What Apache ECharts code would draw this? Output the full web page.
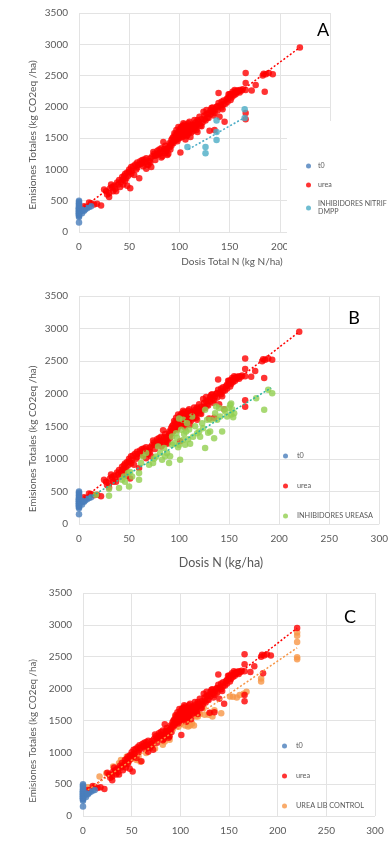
<!DOCTYPE html>
<html>
<head>
<meta charset="utf-8">
<script src="https://cdn.jsdelivr.net/npm/echarts@6/dist/echarts.min.js"></script>
<style>
html,body{margin:0;padding:0;background:#fff;}
#chart{width:391px;height:844px;}
</style>
</head>
<body>
<div id="chart"></div>
<script>
// ---------------- DATA ----------------
const yTicks = [0, 500, 1000, 1500, 2000, 2500, 3000, 3500];
const xMaxA = 250;   // panel A axis (the right part is hidden behind its legend)
const xMaxBC = 300;

const seriesNames = ['t0', 'urea', 'INHIBIDORES NITRIF\nDMPP', 'INHIBIDORES UREASA', 'UREA LIB CONTROL'];

// t0 (control, no N)
const t0Points = [
  [0,150],[0,240],[0,260],[0,270],[0,280],[0,290],[0,300],[0,310],[0,320],[0,330],
  [0,340],[0,350],[0,360],[0,370],[0,380],[0,390],[0,400],[0,420],[0,440],[0,460],
  [0,480],[0,500],[2,330],[3,300],[4,350],[5,340],[6,360],[8,380],[10,400],[12,410]
];

// urea (same in A, B, C)
const ureaPoints = [
  [5,410],[7,400],[10,470],[12,460],[15,440],[18,450],[22,425],[25,680],[27,650],[28,600],
  [30,560],[30,620],[31,700],[32,760],[33,720],[34,650],[35,740],[36,690],[37,650],[38,790],
  [39,760],[40,830],[41,720],[42,800],[43,880],[44,760],[44,840],[45,900],[46,930],[46,820],[47,860],
  [48,950],[48,740],[49,900],[50,1000],[50,960],[51,700],[52,1040],[52,930],[53,980],[54,1050],[55,910],
  [56,1080],[57,1000],[58,1110],[58,1030],[59,1070],[60,860],[61,1130],[62,1090],[63,1100],[63,1150],[64,1050],[65,1160],
  [66,1120],[67,1010],[67,1180],[68,1080],[69,1070],[70,1130],[71,1180],[71,1110],[72,1040],[73,1210],[74,1280],[75,1250],
  [76,1150],[76,1220],[77,1230],[78,1300],[79,1240],[80,1320],[80,1270],[81,1260],[82,1190],[82,1340],[83,1210],[84,1440],[85,1290],
  [85,1330],[86,1380],[86,1260],[87,1300],[88,1230],[88,1340],[89,1250],[90,1420],[90,1350],[91,1400],[91,1320],[92,1470],[92,1380],
  [93,1500],[93,1430],[94,1520],[94,1420],[95,1580],[95,1460],[96,1480],[96,1560],[97,1630],[97,1540],[97,1470],[98,1560],[98,1450],
  [99,1600],[99,1500],[99,1680],[100,1610],[100,1550],[100,1500],[101,1270],[101,1660],[101,1590],[102,1680],[102,1580],[102,1530],[103,1520],[103,1620],[103,1700],
  [104,1740],[104,1600],[104,1650],[105,1660],[105,1550],[105,1720],[106,1690],[106,1480],[106,1580],[107,1670],[107,1600],[107,1530],[108,1700],[108,1550],[108,1640],
  [109,1740],[109,1640],[109,1580],[110,1600],[110,1700],[110,1760],[111,1520],[111,1670],[112,1650],[112,1590],[113,1720],[113,1650],[114,1710],[114,1620],[115,1790],[115,1700],
  [116,1660],[116,1750],[117,1700],[117,1630],[118,1600],[118,1790],[119,1760],[120,1840],[120,1730],[121,1700],[122,1800],[122,1690],[123,1750],[124,1920],[125,1860],[125,1800],
  [126,1780],[127,1950],[127,1880],[128,1830],[129,1900],[129,1820],[130,1620],[131,1880],[131,1950],[132,1980],[133,1920],[133,1990],[134,1860],[135,1630],[135,1900],
  [136,1960],[137,2000],[138,1940],[138,2010],[139,2220],[139,2060],[140,1840],[141,2020],[142,2080],[142,1990],[143,1960],[144,2100],[144,2040],
  [145,1760],[146,2050],[147,2120],[148,2080],[148,2140],[149,2200],[150,2160],[150,2200],[151,2110],[152,2210],[152,2150],[153,2240],[154,2180],
  [155,2270],[156,2200],[156,2250],[157,2230],[158,2260],[159,2250],[160,2270],[160,2230],[162,2260],[163,2280],[166,2540],[166,2380],
  [166,2270],[166,1900],[166,1800],[172,2260],[176,2350],[183,2500],[184,2530],[185,2240],[186,2520],[189,2540],
  [193,2520],[220,2950]
];

// A: INHIBIDORES NITRIF DMPP
const nitrifPoints = [
  [108,1360],[126,1360],[126,1260],[137,1780],[137,1600],[137,1470],[165,1960],[165,1820]
];

// B: INHIBIDORES UREASA
const ureasaPoints = [
  [17,450],[30,434],[30,537],[40,552],[43,680],[45,731],[46,650],[49,782],[50,577],[51,800],
  [53,730],[60,680],[60,782],[62,935],[64,1037],[67,1088],[70,910],[74,935],[75,1000],[77,1037],
  [79,1190],[81,1090],[83,986],[85,1165],[86,1040],[88,1090],[90,935],[91,1040],[93,1216],[93,1344],
  [95,1240],[97,1395],[98,1320],[99,1180],[100,1216],[100,1620],[101,986],[102,1446],[104,1599],[104,1290],
  [105,1380],[106,1216],[107,1420],[108,1548],[109,1300],[110,1450],[111,1230],[113,1650],[114,1340],[116,1500],
  [118,1395],[120,1420],[121,1340],[123,1548],[124,1470],[126,1165],[126,1753],[128,1600],[129,1400],[131,1420],
  [132,1600],[135,1318],[136,1702],[137,1804],[138,1600],[140,1780],[141,1650],[143,1420],[145,1760],[146,1727],
  [148,1650],[150,1780],[151,1830],[152,1680],[152,1850],[153,1760],[154,1640],[155,1700],[177,1932],[185,1753],
  [189,2059],[193,2008]
];

// C: UREA LIB CONTROL
const libControlPoints = [
  [5,450],[17,618],[24,670],[31,775],[32,670],[34,720],[37,828],[39,880],[41,800],[43,850],
  [45,932],[46,830],[48,880],[50,900],[53,950],[55,880],[57,932],[59,850],[62,1090],[65,990],
  [69,1116],[72,1142],[74,1060],[76,1190],[79,1220],[82,1120],[84,1170],[86,1352],[88,1280],[89,1195],
  [93,1457],[95,1560],[97,1500],[98,1400],[99,1614],[101,1460],[102,1690],[103,1560],[105,1420],[106,1650],
  [107,1500],[108,1404],[110,1420],[112,1450],[114,1420],[116,1560],[118,1560],[120,1600],[122,1760],[124,1700],
  [125,1588],[127,1876],[129,1590],[131,1620],[133,1560],[135,1660],[137,1928],[142,1614],[151,1876],[154,1870],
  [158,1860],[161,1900],[165,1920],[168,1950],[183,2112],[183,2160],[220,2880],[220,2830],[220,2730],[220,2490],
  [220,2460]
];

// linear trend lines (endpoints)
const trendUrea = [[5,400],[220,2950]];
const trendNitrif = [[109,1320],[165,1830]];
const trendUreasa = [[10,400],[192,2090]];
const trendLibControl = [[5,410],[220,2640]];

// ---------------- STYLE ----------------
const FONT = 'Lato, "Open Sans", sans-serif';
const GRAY = '#595959';
const colors = {
  t0: '#4A7EBB',
  urea: '#FF0000',
  nitrif: '#4BACC6',
  ureasa: '#92D050',
  ureasaTrend: '#2BB5A0',
  lib: '#F79646'
};

const grids = [
  {left: 79, top: 13, width: 251, height: 219},
  {left: 79, top: 296, width: 302, height: 228},
  {left: 83, top: 593, width: 292, height: 223}
];

function xAxis(i, max) {
  return {
    type: 'value', gridIndex: i, min: 0, max: max, interval: 50,
    axisLine: {show: false}, axisTick: {show: false},
    splitLine: {show: true, lineStyle: {color: '#e3e3e3', width: 1}},
    axisLabel: {color: GRAY, fontFamily: FONT, fontSize: 10, margin: 10, formatter: v => String(v)}
  };
}
function yAxis(i) {
  return {
    type: 'value', gridIndex: i, min: yTicks[0], max: yTicks[yTicks.length - 1], interval: 500,
    axisLine: {show: false}, axisTick: {show: false},
    splitLine: {show: true, lineStyle: {color: '#e3e3e3', width: 1}},
    axisLabel: {color: GRAY, fontFamily: FONT, fontSize: 10, margin: 11, formatter: v => String(v)}
  };
}
function scatter(name, data, color, i) {
  return {
    name: name, type: 'scatter', xAxisIndex: i, yAxisIndex: i, data: data,
    symbol: 'circle', symbolSize: 6.5, itemStyle: {color: color}, silent: true
  };
}
function trend(data, color, i) {
  return {
    type: 'line', xAxisIndex: i, yAxisIndex: i, data: data, symbol: 'none',
    lineStyle: {color: color, width: 1.5, type: [2, 2]}, silent: true, z: 3
  };
}
function legend(names, left, top, gap, size, pad) {
  return {
    orient: 'vertical', left: left, top: top, data: names, itemGap: gap,
    itemWidth: 5, itemHeight: 5, icon: 'circle', z: 10,
    textStyle: {color: GRAY, fontFamily: FONT, fontSize: size, lineHeight: 8, padding: [0, 0, 0, pad]},
    selectedMode: false
  };
}
function yTitle(x, y, size) {
  return {
    type: 'text', x: x, y: y, rotation: Math.PI / 2, z: 50,
    style: {text: 'Emisiones Totales (kg CO2eq /ha)', fill: GRAY, font: size + 'px ' + FONT, align: 'center', verticalAlign: 'middle'}
  };
}

const option = {
  animation: false,
  backgroundColor: '#ffffff',
  grid: grids,
  xAxis: [xAxis(0, xMaxA), xAxis(1, xMaxBC), xAxis(2, xMaxBC)],
  yAxis: [yAxis(0), yAxis(1), yAxis(2)],
  legend: [
    legend([seriesNames[0], seriesNames[1], seriesNames[2]], 301, 157, 11, 7.1, 2),
    legend([seriesNames[0], seriesNames[1], seriesNames[3]], 278, 447, 22, 7.3, 4),
    legend([seriesNames[0], seriesNames[1], seriesNames[4]], 277, 737, 22, 7.3, 4)
  ],
  series: [
    trend(trendUrea, colors.urea, 0),
    trend(trendNitrif, colors.nitrif, 0),
    scatter(seriesNames[1], ureaPoints, colors.urea, 0),
    scatter(seriesNames[0], t0Points, colors.t0, 0),
    scatter(seriesNames[2], nitrifPoints, colors.nitrif, 0),

    trend(trendUrea, colors.urea, 1),
    trend(trendUreasa, colors.ureasaTrend, 1),
    scatter(seriesNames[1], ureaPoints, colors.urea, 1),
    scatter(seriesNames[0], t0Points, colors.t0, 1),
    scatter(seriesNames[3], ureasaPoints, colors.ureasa, 1),

    trend(trendUrea, colors.urea, 2),
    trend(trendLibControl, colors.lib, 2),
    scatter(seriesNames[4], libControlPoints, colors.lib, 2),
    scatter(seriesNames[1], ureaPoints, colors.urea, 2),
    scatter(seriesNames[0], t0Points, colors.t0, 2)
  ],
  graphic: [
    // legend box of panel A hides the right lower part of its plot
    {type: 'rect', z: 5, shape: {x: 287, y: 121, width: 104, height: 140}, style: {fill: '#ffffff'}},
    // panel letters
    {type: 'text', x: 323, y: 30, z: 50, style: {text: 'A', fill: '#000', font: '18px ' + FONT, align: 'center', verticalAlign: 'middle'}},
    {type: 'text', x: 354, y: 318, z: 50, style: {text: 'B', fill: '#000', font: '18px ' + FONT, align: 'center', verticalAlign: 'middle'}},
    {type: 'text', x: 350, y: 617, z: 50, style: {text: 'C', fill: '#000', font: '18px ' + FONT, align: 'center', verticalAlign: 'middle'}},
    // axis titles
    yTitle(33, 135, 10.2), yTitle(33, 439, 10), yTitle(33, 731, 9.8),
    {type: 'text', x: 232, y: 262, z: 50, style: {text: 'Dosis Total N (kg N/ha)', fill: GRAY, font: '10px ' + FONT, align: 'center', verticalAlign: 'middle'}},
    {type: 'text', x: 221, y: 563, z: 50, style: {text: 'Dosis N (kg/ha)', fill: GRAY, font: '12.5px ' + FONT, align: 'center', verticalAlign: 'middle'}}
  ]
};

const chart = echarts.init(document.getElementById('chart'), null, {renderer: 'canvas'});
chart.setOption(option);
</script>
</body>
</html>
